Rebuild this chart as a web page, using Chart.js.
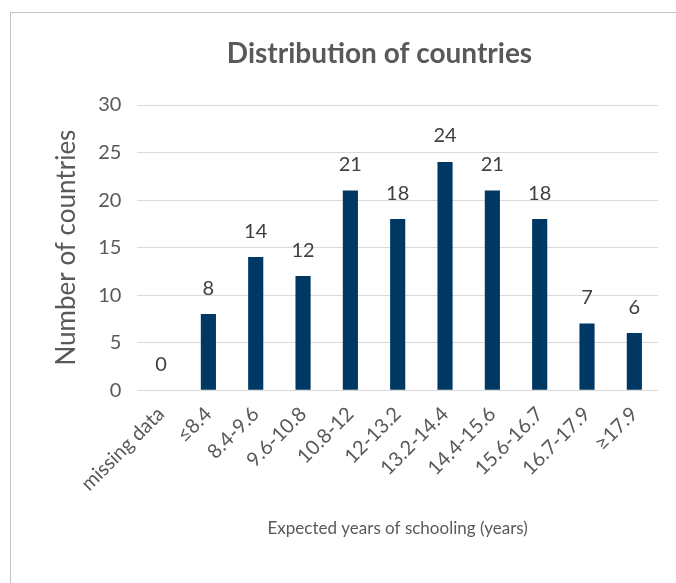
<!DOCTYPE html>
<html>
<head>
<meta charset="utf-8">
<script src="https://cdn.jsdelivr.net/npm/chart.js@4/dist/chart.umd.min.js"></script>
<style>
  html, body { margin: 0; padding: 0; background: #fff; }
  body { width: 676px; height: 583px; position: relative; overflow: hidden; }
  #frame {
    position: absolute; left: 10px; top: 12px; width: 666px; height: 571px;
    border-top: 1px solid #c4c4c4; border-left: 1px solid #c4c4c4;
  }
</style>
</head>
<body>
<div id="frame"><canvas id="chart" width="665" height="570"></canvas></div>
<script>
const categories = ['missing data', '\u22648.4', '8.4-9.6', '9.6-10.8', '10.8-12', '12-13.2',
  '13.2-14.4', '14.4-15.6', '15.6-16.7', '16.7-17.9', '\u226517.9'];
const countryCounts = [0, 8, 14, 12, 21, 18, 24, 21, 18, 7, 6];
const chartTitle = 'Distribution of countries';

const fontFamily = 'Lato, "Open Sans", sans-serif';
const textColor = '#595959';

// title (a bit right of the canvas centre, like the original) + values above bars
const chartText = {
  id: 'chartText',
  afterDatasetsDraw(chart) {
    const ctx = chart.ctx;
    const meta = chart.getDatasetMeta(0);
    ctx.save();
    ctx.font = `bold 28px ${fontFamily}`;
    ctx.fillStyle = textColor;
    ctx.textAlign = 'center';
    ctx.textBaseline = 'middle';
    ctx.fillText(chartTitle, chart.width / 2 + 36, 41);

    ctx.font = `20px ${fontFamily}`;
    ctx.fillStyle = '#404040';
    ctx.textBaseline = 'bottom';
    meta.data.forEach((bar, i) => {
      ctx.fillText(String(countryCounts[i]), bar.x, bar.y - 16);
    });
    ctx.restore();
  },
};

new Chart(document.getElementById('chart'), {
  type: 'bar',
  data: {
    labels: categories,
    datasets: [{
      data: countryCounts,
      backgroundColor: '#003864',
      barPercentage: 0.32,
      categoryPercentage: 1,
    }],
  },
  options: {
    responsive: false,
    animation: false,
    layout: { padding: { top: 92, right: 18, bottom: 40, left: 36 } },
    plugins: {
      legend: { display: false },
      tooltip: { enabled: false },
      title: { display: false },
    },
    scales: {
      x: {
        grid: { display: false },
        border: { display: false },
        ticks: {
          color: textColor,
          font: { family: fontFamily, size: 20 },
          minRotation: 45,
          maxRotation: 45,
          padding: 4,
        },
        title: {
          display: true,
          text: 'Expected years of schooling (years)',
          color: textColor,
          font: { family: fontFamily, size: 17 },
          padding: { top: 19 },
        },
      },
      y: {
        min: 0,
        max: 30,
        ticks: {
          stepSize: 5,
          color: textColor,
          font: { family: fontFamily, size: 20 },
          padding: 16,
        },
        grid: { color: '#d9d9d9', lineWidth: 1, drawTicks: false },
        border: { display: false },
        title: {
          display: true,
          text: 'Number of countries',
          color: textColor,
          font: { family: fontFamily, size: 26 },
          padding: { bottom: 0 },
        },
      },
    },
  },
  plugins: [chartText],
});
</script>
</body>
</html>
